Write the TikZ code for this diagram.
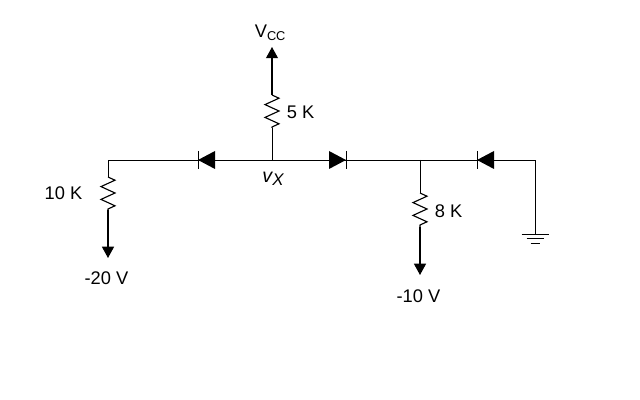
\documentclass[tikz,border=0pt]{standalone}
\usepackage{fontspec}
\setmainfont{Liberation Sans}
\usetikzlibrary{arrows.meta, decorations.pathmorphing}
\tikzset{>={Triangle[length=8pt, width=8.5pt]}}
\tikzset{wire/.style={line width = 0.7pt}}
\tikzset{lead/.style={line width = 0.95pt}}
\tikzset{res/.style={line width = 0.8pt, decorate, decoration={zigzag, amplitude=1.75mm, segment length=3.2mm}}}
\tikzset{lbl/.style={inner sep=0pt, font=\fontsize{13}{14}\selectfont}}
\begin{document}
\begin{tikzpicture}[x=0.025cm, y=-0.025cm]
	\useasboundingbox (0,0) rectangle (640,400);
	\coordinate (corner) at (108,160);
	\coordinate (vx) at (272,160);
	\coordinate (tap) at (420,160);
	\coordinate (end) at (535,160);
	\coordinate (gnd) at (535,234);
	\coordinate (R1a) at (272,128);
	\coordinate (R1b) at (272,95);
	\coordinate (R2a) at (108,177);
	\coordinate (R2b) at (108,210);
	\coordinate (R3a) at (420,193);
	\coordinate (R3b) at (420,227);
	\coordinate (top) at (272,47);
	\coordinate (left) at (108,258);
	\coordinate (right) at (420,275);
	\draw [wire] (R2a) -- (corner) -- (end) -- (gnd);
	\draw [wire] (vx) -- (R1a);
	\draw [wire] (tap) -- (R3a);
	\draw [res] (R1b) -- (R1a);
	\draw [res] (R2a) -- (R2b);
	\draw [res] (R3a) -- (R3b);
	\draw [->, lead] (R1b) -- (top);
	\draw [->, lead] (R2b) -- (left);
	\draw [->, lead] (R3b) -- (right);
	\foreach \x/\d in {198/17, 346/-17, 477/17} {
		\fill (\x,160) -- (\x+\d,151) -- (\x+\d,169) -- cycle;
		\draw [wire] (\x,151) -- (\x,169);
	}
	\foreach \y/\w in {234/13.5, 238.5/8.5, 243/4.5}
	\draw [wire] (535-\w,\y) -- (535+\w,\y);
	\node [lbl] (vcc) at (270.5,33) {V\textsubscript{CC}};
	\node [lbl] (vxlabel) at (273,179) {\fontsize{14}{14}\selectfont\itshape v\raisebox{-2pt}{\fontsize{12}{12}\selectfont X}};
	\node [lbl] (r1label) at (300.5,112) {5 K};
	\node [lbl] (r2label) at (63.5,193) {10 K};
	\node [lbl] (r3label) at (448.5,211) {8 K};
	\node [lbl] (leftv) at (106.5,278) {-20 V};
	\node [lbl] (rightv) at (418.5,296) {-10 V};
\end{tikzpicture}
\end{document}
